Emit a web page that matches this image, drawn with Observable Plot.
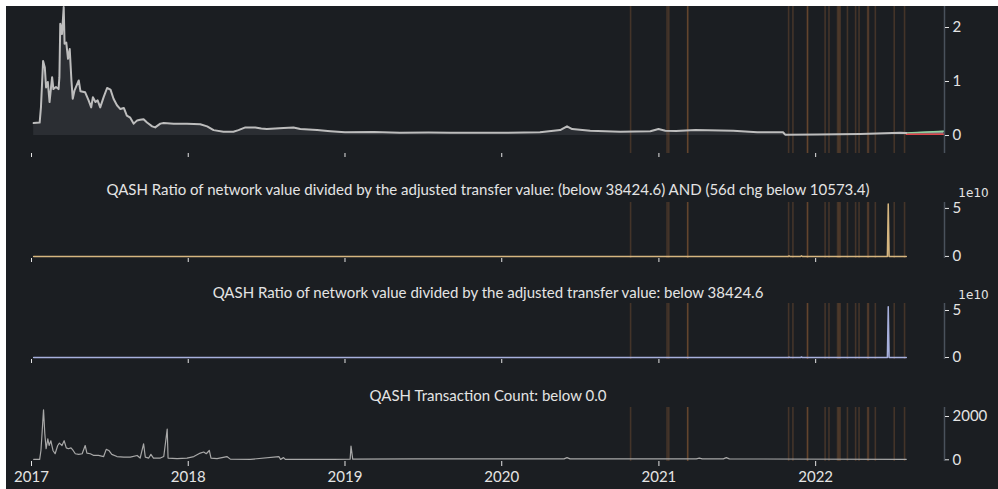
<!DOCTYPE html>
<html>
<head>
<meta charset="utf-8">
<script src="https://cdn.jsdelivr.net/npm/d3@7"></script>
<script src="https://cdn.jsdelivr.net/npm/@observablehq/plot@0.6"></script>
<style>
  html, body { margin: 0; padding: 0; background: #ffffff; }
  #wrap { position: relative; width: 998px; height: 489px; overflow: hidden; }
  #bg { position: absolute; left: 6px; top: 6px; right: 0; bottom: 0; background: #1b1e22; }
  .panel { position: absolute; left: 0; }
</style>
</head>
<body>
<div id="wrap"><div id="bg"></div></div>
<script>
// ---------- data ----------
const price = [
  ["2017-01-06",0.23],["2017-01-20",0.24],["2017-01-23",0.52],["2017-01-28",1.38],["2017-02-01",1.26],
  ["2017-02-04",0.89],["2017-02-08",0.99],["2017-02-12",0.62],["2017-02-18",1.08],["2017-02-21",0.86],
  ["2017-02-27",0.90],["2017-03-05",0.86],["2017-03-07",1.08],["2017-03-09",2.07],["2017-03-13",1.88],
  ["2017-03-17",2.38],["2017-03-19",1.70],["2017-03-23",1.72],["2017-03-27",1.42],["2017-03-31",1.60],
  ["2017-04-04",1.02],["2017-04-07",0.68],["2017-04-11",0.83],["2017-04-21",1.02],["2017-04-25",0.82],
  ["2017-05-06",0.80],["2017-05-14",0.65],["2017-05-20",0.52],["2017-05-24",0.71],["2017-05-30",0.62],
  ["2017-06-04",0.65],["2017-06-10",0.52],["2017-06-18",0.71],["2017-06-26",0.88],["2017-07-04",0.85],
  ["2017-07-11",0.68],["2017-07-19",0.56],["2017-07-27",0.49],["2017-08-04",0.51],["2017-08-11",0.37],
  ["2017-08-19",0.33],["2017-08-27",0.22],["2017-09-04",0.28],["2017-09-11",0.29],["2017-09-19",0.30],
  ["2017-09-27",0.24],["2017-10-09",0.17],["2017-10-16",0.15],["2017-10-28",0.22],["2017-11-05",0.23],
  ["2017-11-28",0.22],["2017-12-29",0.22],["2018-01-29",0.21],["2018-02-14",0.17],["2018-03-01",0.10],
  ["2018-03-24",0.07],["2018-04-16",0.07],["2018-04-28",0.10],["2018-05-14",0.15],["2018-06-06",0.15],
  ["2018-06-20",0.13],["2018-07-03",0.12],["2018-08-11",0.14],["2018-09-03",0.15],["2018-09-19",0.12],
  ["2018-10-28",0.10],["2018-11-28",0.08],["2019-01-01",0.06],["2019-03-10",0.065],["2019-05-09",0.05],
  ["2019-07-15",0.055],["2019-09-03",0.05],["2019-12-28",0.05],["2020-03-30",0.06],["2020-05-16",0.10],
  ["2020-06-01",0.17],["2020-06-13",0.12],["2020-07-25",0.09],["2020-10-03",0.07],["2020-12-12",0.08],
  ["2020-12-31",0.12],["2021-01-16",0.09],["2021-02-10",0.085],["2021-03-27",0.10],["2021-06-23",0.09],
  ["2021-08-18",0.06],["2021-10-17",0.06],["2021-10-22",0.015],["2022-01-05",0.02],["2022-04-15",0.03],
  ["2022-07-17",0.05],["2022-07-31",0.046]
];
const forecastDates = ["2022-07-31","2022-10-27"];
const forecastLow = [0.025, 0.022];
const forecastHigh = [0.045, 0.078];

const ratioAnd = [
  ["2017-01-06",0],["2021-10-29",0],["2021-10-31",0.05e10],["2021-11-02",0],["2021-11-27",0],
  ["2021-11-29",0.06e10],["2021-12-01",0],["2022-06-17",0],["2022-06-19",5.45e10],["2022-06-21",0],["2022-07-31",0]
];
const ratioBelow = [
  ["2017-01-06",0],["2021-10-29",0],["2021-10-31",0.04e10],["2021-11-02",0],["2021-11-27",0],
  ["2021-11-29",0.05e10],["2021-12-01",0],["2022-06-17",0],["2022-06-19",5.4e10],["2022-06-21",0],["2022-07-31",0]
];
const txCount = [
  ["2017-01-06",20],["2017-01-20",20],["2017-01-23",430],["2017-01-26",1350],["2017-01-29",2310],
  ["2017-02-01",1200],["2017-02-04",510],["2017-02-08",970],["2017-02-11",660],["2017-02-15",880],
  ["2017-02-20",430],["2017-02-25",280],["2017-03-03",660],["2017-03-07",770],["2017-03-13",660],
  ["2017-03-18",880],["2017-03-23",550],["2017-03-28",510],["2017-04-03",550],["2017-04-08",430],
  ["2017-04-13",280],["2017-04-21",250],["2017-04-29",280],["2017-05-06",660],["2017-05-10",310],
  ["2017-05-18",280],["2017-05-26",200],["2017-06-06",200],["2017-06-18",150],["2017-06-24",480],
  ["2017-06-30",430],["2017-07-07",250],["2017-07-19",150],["2017-08-04",120],["2017-08-19",120],
  ["2017-09-04",200],["2017-09-11",80],["2017-09-19",740],["2017-09-23",120],["2017-10-01",80],
  ["2017-10-06",250],["2017-10-12",80],["2017-10-28",80],["2017-11-05",150],["2017-11-13",1420],
  ["2017-11-15",80],["2017-12-06",50],["2017-12-29",80],["2018-01-14",150],["2018-01-29",310],
  ["2018-02-06",360],["2018-02-12",280],["2018-02-19",430],["2018-02-23",80],["2018-03-09",50],
  ["2018-04-01",150],["2018-04-09",30],["2018-05-26",20],["2018-07-31",150],["2018-08-04",20],
  ["2018-08-11",100],["2018-08-15",20],["2018-12-05",20],["2019-01-13",30],["2019-01-15",630],
  ["2019-01-19",30],["2019-06-15",40],["2019-12-01",40],["2020-05-25",40],["2020-06-01",100],
  ["2020-06-08",40],["2021-03-29",40],["2021-04-05",80],["2021-04-12",40],["2021-05-31",40],
  ["2021-06-07",100],["2021-06-14",40],["2022-07-31",20]
];
const signalDates = [
  "2020-10-27","2021-01-20","2021-01-24","2021-03-09","2021-03-09","2021-10-30","2021-11-09",
  "2021-12-13","2021-12-13","2022-01-23","2022-02-01","2022-02-21","2022-02-24","2022-02-27",
  "2022-03-16","2022-04-04","2022-04-12","2022-05-02","2022-05-04","2022-05-20","2022-07-03","2022-07-27"
];
const yearLabels = ["2017","2018","2019","2020","2021","2022"];
const titles = [
  "QASH Ratio of network value divided by the adjusted transfer value: (below 38424.6) AND (56d chg below 10573.4)",
  "QASH Ratio of network value divided by the adjusted transfer value: below 38424.6",
  "QASH Transaction Count: below 0.0"
];

// ---------- helpers ----------
const parse = d3.utcParse("%Y-%m-%d");
const toRows = arr => arr.map(([d, v]) => ({date: parse(d), value: v}));
const xDomain = [parse("2017-01-01"), parse("2022-10-28")];
const yearTicks = yearLabels.map(y => parse(y + "-01-01"));
const signals = signalDates.map(parse);
const forecast = forecastDates.map((d, i) => ({date: parse(d), lo: forecastLow[i], hi: forecastHigh[i]}));

const TXT = "#e4e4e4";
const AXIS = "#4a525c";
const SIG = "#c07840";
const intFmt = d3.format("d");
const style = {background: "transparent", color: TXT, fontFamily: "Lato, 'Open Sans', sans-serif", fontSize: "15px", overflow: "visible"};

function place(svg, top) {
  svg.classList.add("panel");
  svg.style.top = top + "px";
  svg.style.position = "absolute";
  document.getElementById("wrap").appendChild(svg);
}

const noLabels = () => "";
const sigRules = () => Plot.ruleX(signals, {x: d => d, stroke: SIG, strokeOpacity: 0.25, strokeWidth: 1.6});
const axisLine = () => Plot.ruleX([xDomain[1]], {stroke: AXIS, strokeWidth: 1.5});
const title = (t, dy) => Plot.text([t], {frameAnchor: "top", lineAnchor: "middle", textAnchor: "middle", dy, fill: TXT});
const offset = (dy) => Plot.text(["1e10"], {frameAnchor: "top-right", lineAnchor: "middle", textAnchor: "middle", dx: 29, dy, fill: TXT, fontFamily: "DejaVu Sans", fontSize: 12});

// Panel 1: price
const p1 = Plot.plot({
  width: 998, height: 172, marginTop: 6, marginBottom: 19, marginLeft: 31, marginRight: 54,
  style,
  x: {type: "utc", domain: xDomain},
  y: {domain: [-0.333, 2.389]},
  marks: [
    Plot.areaY(toRows(price), {x: "date", y: "value", fill: "#2b2e33"}),
    sigRules(),
    Plot.areaY(forecast, {x: "date", y1: "lo", y2: "hi", fill: "#e8e8e8", fillOpacity: 0.55}),
    Plot.lineY(forecast, {x: "date", y: "hi", stroke: "#8fd3a0", strokeWidth: 1.5}),
    Plot.lineY(forecast, {x: "date", y: "lo", stroke: "#e0474c", strokeWidth: 1.5}),
    Plot.lineY(toRows(price), {x: "date", y: "value", stroke: "#bdbdbd", strokeWidth: 2}),
    axisLine(),
    Plot.axisX({ticks: yearTicks, tickSize: 4, tickFormat: noLabels, label: null}),
    Plot.axisY({anchor: "right", ticks: [0, 1, 2], tickFormat: intFmt, tickSize: 4, tickPadding: 4, label: null})
  ]
});
place(p1, 0);

// Panel 2
const p2 = Plot.plot({
  width: 998, height: 102, marginTop: 30, marginBottom: 16, marginLeft: 31, marginRight: 54,
  style,
  x: {type: "utc", domain: xDomain},
  y: {domain: [-0.216e10, 5.615e10]},
  marks: [
    sigRules(),
    Plot.lineY(toRows(ratioAnd), {x: "date", y: "value", stroke: "#d6b680", strokeWidth: 1.5}),
    axisLine(),
    Plot.axisX({ticks: yearTicks, tickSize: 4, tickFormat: noLabels, label: null}),
    Plot.axisY({anchor: "right", ticks: [0, 5e10], tickFormat: d => intFmt(d / 1e10), tickSize: 4, tickPadding: 4, label: null}),
    title(titles[0], -12),
    offset(-9)
  ]
});
place(p2, 172);

// Panel 3
const p3 = Plot.plot({
  width: 998, height: 102, marginTop: 29, marginBottom: 17, marginLeft: 31, marginRight: 54,
  style,
  x: {type: "utc", domain: xDomain},
  y: {domain: [-0.213e10, 5.745e10]},
  marks: [
    sigRules(),
    Plot.lineY(toRows(ratioBelow), {x: "date", y: "value", stroke: "#a7b0dd", strokeWidth: 1.5}),
    axisLine(),
    Plot.axisX({ticks: yearTicks, tickSize: 4, tickFormat: noLabels, label: null}),
    Plot.axisY({anchor: "right", ticks: [0, 5e10], tickFormat: d => intFmt(d / 1e10), tickSize: 4, tickPadding: 4, label: null}),
    title(titles[1], -10),
    offset(-8)
  ]
});
place(p3, 274);

// Panel 4
const p4 = Plot.plot({
  width: 998, height: 113, marginTop: 31, marginBottom: 28, marginLeft: 31, marginRight: 54,
  style,
  x: {type: "utc", domain: xDomain},
  y: {domain: [-79, 2416]},
  marks: [
    sigRules(),
    Plot.lineY(toRows(txCount), {x: "date", y: "value", stroke: "#a8a8a8", strokeWidth: 1.2}),
    axisLine(),
    Plot.axisX({ticks: yearTicks, tickSize: 5, tickPadding: 5, tickFormat: d3.utcFormat("%Y"), label: null}),
    Plot.axisY({anchor: "right", ticks: [0, 2000], tickFormat: intFmt, tickSize: 4, tickPadding: 4, label: null}),
    title(titles[2], -11)
  ]
});
place(p4, 376);
</script>
</body>
</html>
